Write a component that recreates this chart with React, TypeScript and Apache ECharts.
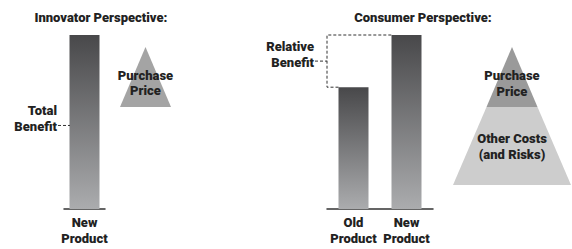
import React, { useEffect, useRef } from "react";
import * as echarts from "echarts";

const innovatorCategories = ["New\nProduct"];
const innovatorBenefit = [100];
const totalBenefitMark = 48;

const consumerCategories = ["Old\nProduct", "New\nProduct"];
const consumerBenefit = [70, 100];

const innovatorPyramid = [{ name: "Purchase\nPrice", value: 51, height: 60 }];
const consumerPyramid = [
  { name: "Purchase\nPrice", value: 51, height: 60 },
  { name: "Other Costs\n(and Risks)", value: 118, height: 78 },
];

const titles = ["Innovator Perspective:", "Consumer Perspective:"];

const FONT = "Roboto, 'Liberation Sans', sans-serif";
const WEIGHT = 900;

export default function App() {
  const ref = useRef<HTMLDivElement>(null);
  useEffect(() => {
    if (!ref.current) return;
    const chart = echarts.init(ref.current, null, { renderer: "svg" });
    const barColor = {
      type: "linear",
      x: 0,
      y: 0,
      x2: 0,
      y2: 1,
      colorStops: [
        { offset: 0, color: "#48484a" },
        { offset: 1, color: "#abacae" },
      ],
    };
    const axisCommon = {
      type: "category",
      axisLine: { lineStyle: { color: "#333", width: 1.5 } },
      axisTick: { show: false },
      axisLabel: {
        color: "#222",
        fontFamily: FONT,
        fontWeight: WEIGHT,
        fontSize: 13,
        lineHeight: 16,
        margin: 5,
        interval: 0,
      },
    };
    const yCommon = { type: "value", min: 0, max: 100, show: false };
    const textStyle = { fontFamily: FONT, fontWeight: WEIGHT, fontSize: 13, color: "#222" };
    const dash = { stroke: "#333", lineWidth: 1, lineDash: [3, 2] };

    chart.setOption({
      animation: false,
      title: [
        { text: titles[0], left: 96, top: 6, textAlign: "center", textStyle },
        { text: titles[1], left: 418, top: 6, textAlign: "center", textStyle },
      ],
      grid: [
        { left: 64, width: 41, top: 35, bottom: 40 },
        { left: 327, width: 106, top: 35, bottom: 40 },
      ],
      xAxis: [
        { ...axisCommon, gridIndex: 0, data: innovatorCategories },
        { ...axisCommon, gridIndex: 1, data: consumerCategories },
      ],
      yAxis: [
        { ...yCommon, gridIndex: 0 },
        { ...yCommon, gridIndex: 1 },
      ],
      series: [
        {
          type: "bar",
          xAxisIndex: 0,
          yAxisIndex: 0,
          barWidth: 30,
          data: innovatorBenefit,
          itemStyle: { color: barColor },
        },
        {
          type: "bar",
          xAxisIndex: 1,
          yAxisIndex: 1,
          barWidth: 30,
          data: consumerBenefit,
          itemStyle: { color: barColor },
        },
        {
          type: "custom",
          xAxisIndex: 0,
          yAxisIndex: 0,
          silent: true,
          z: 5,
          data: [[0, totalBenefitMark]],
          renderItem: (params: any, api: any) => {
            const p = api.coord([api.value(0), api.value(1)]);
            const half = api.size([1, 0])[0] / 2;
            const xl = p[0] - half;
            return {
              type: "group",
              children: [
                { type: "line", shape: { x1: xl - 6, y1: p[1], x2: xl + 6, y2: p[1] }, style: dash },
                {
                  type: "text",
                  style: {
                    text: "Total\nBenefit",
                    x: xl - 7,
                    y: p[1] - 7,
                    align: "right",
                    verticalAlign: "middle",
                    font: `${WEIGHT} 13px ${FONT}`,
                    lineHeight: 16,
                    fill: "#222",
                  },
                },
              ],
            };
          },
        },
        {
          type: "custom",
          xAxisIndex: 1,
          yAxisIndex: 1,
          silent: true,
          z: 5,
          data: [[0, consumerBenefit[0], consumerBenefit[1]]],
          renderItem: (params: any, api: any) => {
            const pOld = api.coord([0, api.value(1)]);
            const pNew = api.coord([1, api.value(2)]);
            const half = api.size([1, 0])[0] / 2;
            const xl = pOld[0] - half;
            const midY = (pOld[1] + pNew[1]) / 2;
            return {
              type: "group",
              children: [
                {
                  type: "polyline",
                  shape: {
                    points: [
                      [pOld[0] - 15, pOld[1]],
                      [xl, pOld[1]],
                      [xl, pNew[1]],
                      [pNew[0] - 15, pNew[1]],
                    ],
                  },
                  style: { ...dash, fill: null },
                },
                { type: "line", shape: { x1: xl - 12, y1: midY, x2: xl, y2: midY }, style: dash },
                {
                  type: "text",
                  style: {
                    text: "Relative\nBenefit",
                    x: xl - 13,
                    y: midY - 7,
                    align: "right",
                    verticalAlign: "middle",
                    font: `${WEIGHT} 13px ${FONT}`,
                    lineHeight: 16,
                    fill: "#222",
                  },
                },
              ],
            };
          },
        },
        {
          type: "funnel",
          left: 120,
          top: 47,
          width: 51,
          height: 60,
          sort: "ascending",
          min: 0,
          max: innovatorPyramid[0].value,
          minSize: "0%",
          maxSize: "100%",
          gap: 0,
          label: {
            show: true,
            position: "inside",
            ...textStyle,
            lineHeight: 15,
          },
          labelLayout: { dy: 6 },
          labelLine: { show: false },
          itemStyle: { borderWidth: 0 },
          data: innovatorPyramid.map((d) => ({
            name: d.name,
            value: d.value,
            itemStyle: { color: "#a4a4a4", height: d.height },
          })),
        },
        {
          type: "funnel",
          left: 453,
          top: 47,
          width: 118,
          height: 138,
          sort: "ascending",
          min: 0,
          max: consumerPyramid[1].value,
          minSize: "0%",
          maxSize: "100%",
          gap: 0,
          label: {
            show: true,
            position: "inside",
            ...textStyle,
            lineHeight: 16,
          },
          labelLayout: (p: any) => ({ dy: p.dataIndex === 0 ? 6 : 0 }),
          labelLine: { show: false },
          itemStyle: { borderWidth: 0 },
          data: consumerPyramid.map((d, i) => ({
            name: d.name,
            value: d.value,
            itemStyle: { color: i === 0 ? "#9a9a9a" : "#cdcdcd", height: d.height },
          })),
        },
      ],
    });
    return () => chart.dispose();
  }, []);
  return (
    <div
      ref={ref}
      style={{ position: "fixed", left: 0, top: 0, width: 572, height: 249, background: "#fff" }}
    />
  );
}
